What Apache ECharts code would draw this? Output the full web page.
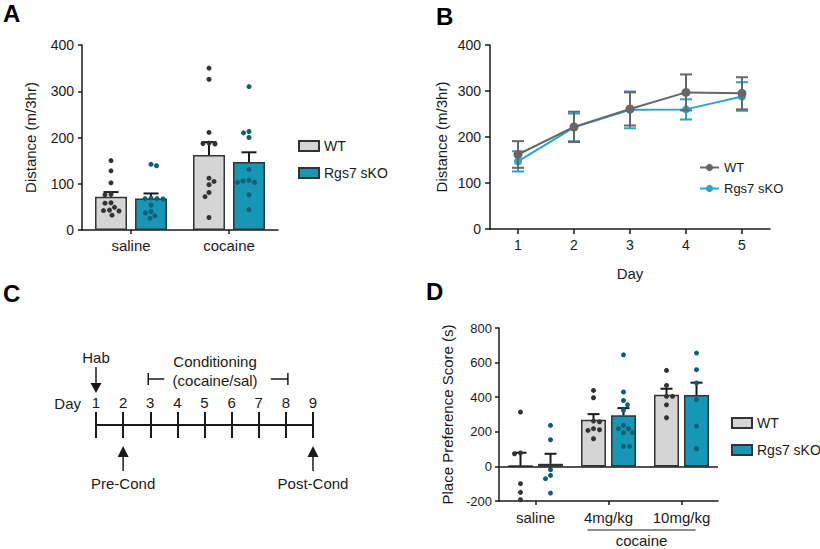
<!DOCTYPE html>
<html><head><meta charset="utf-8">
<script src="https://cdn.jsdelivr.net/npm/echarts@6/dist/echarts.min.js"></script>
<style>html,body{margin:0;padding:0;background:#fff}#c{width:820px;height:549px}</style>
</head><body><div id="c"></div>
<script>
// ---------- Panel A ----------
const aCategories = ['saline', 'cocaine'];
const aWTMean = [72, 162];
const aWTSem = [10, 28];
const aKOMean = [68, 147];
const aKOSem = [11, 21];
const aWTDots = [
  [150, 128, 102, 77, 76, 59, 58, 49, 43, 42, 41, 32],
  [350, 326, 211, 188, 187, 186, 112, 105, 98, 81, 72, 27]
];
const aKODots = [
  [142, 139, 69, 68, 68, 67, 54, 40, 37, 31, 25],
  [310, 213, 210, 200, 131, 108, 106, 103, 103, 76, 44]
];
// ---------- Panel B ----------
const bDays = ['1', '2', '3', '4', '5'];
const bWTMean = [162, 222, 261, 297, 295];
const bWTSem = [29, 33, 36, 39, 35];
const bKOMean = [147, 221, 259, 260, 288];
const bKOSem = [22, 30, 40, 22, 31];
// ---------- Panel C ----------
const cDays = [1, 2, 3, 4, 5, 6, 7, 8, 9];
const cEventDays = [1, 2, 9];
const cEventTexts = ['Hab', 'Pre-Cond', 'Post-Cond'];
const cEventDirs = ['down', 'up', 'up'];
const cCondRange = [3, 8];
const cCondTexts = ['Conditioning', '(cocaine/sal)'];
const cDayWord = ['Day'];
// ---------- Panel D ----------
const dCategories = ['saline', '4mg/kg', '10mg/kg'];
const dGroupText = ['cocaine'];
const dGroupRange = [1, 2];
const dWTMean = [4, 270, 414];
const dWTSem = [75, 32, 35];
const dKOMean = [15, 295, 412];
const dKOSem = [58, 42, 72];
const dWTDots = [
  [314, 78, 73, -100, -150, -193],
  [439, 397, 262, 258, 218, 212, 208, 160],
  [555, 468, 405, 405, 356, 281]
];
const dKODots = [
  [237, 154, -19, -52, -71, -154],
  [645, 430, 381, 356, 324, 237, 218, 218, 195, 195, 116, 116],
  [655, 559, 482, 387, 233, 102]
];

// ---------- styles ----------
const FONT = '"Liberation Sans", Arial, Helvetica, sans-serif';
const INK = '#1a1a1a';
const WT_FILL = '#d5d5d5';
const KO_FILL = '#1797b5';
const WT_DOT = '#333333';
const KO_DOT = '#0e5e74';
const WT_LINE = '#676767';
const KO_LINE = '#27a6c5';

function swarm(ys, d) {
  const placed = [];
  const out = [];
  ys.forEach((y, i) => {
    let chosen = 0;
    for (let k = 0; k < 80; k++) {
      const cands = k === 0 ? [0] : (i % 2 ? [k * 0.5, -k * 0.5] : [-k * 0.5, k * 0.5]);
      let ok = null;
      for (const x of cands) {
        if (placed.every(p => (p[0] - x) ** 2 + (p[1] - y) ** 2 >= d * d)) { ok = x; break; }
      }
      if (ok !== null) { chosen = ok; break; }
    }
    placed.push([chosen, y]);
    out.push(chosen);
  });
  return out;
}

function dotsSeries(groups, offset, color, size, xi, yi) {
  const cache = {};
  return {
    type: 'custom', xAxisIndex: xi, yAxisIndex: yi, z: 5, silent: true,
    data: groups.flatMap((vals, cat) => vals.map((v, i) => [cat, v, i])),
    renderItem: function (params, api) {
      const cat = api.value(0), idx = api.value(2);
      if (!cache[cat]) {
        const ys = groups[cat].map(v => api.coord([cat, v])[1]);
        cache[cat] = swarm(ys, size + 0.6);
      }
      const c = api.coord([cat, api.value(1)]);
      return { type: 'circle', shape: { cx: c[0] + offset + cache[cat][idx], cy: c[1], r: size / 2 }, style: { fill: color } };
    }
  };
}

function errSeries(means, sems, offset, color, capW, both, xi, yi, z) {
  return {
    type: 'custom', xAxisIndex: xi, yAxisIndex: yi, z: z || 4, silent: true,
    data: means.map((m, i) => [i, m, sems[i]]),
    renderItem: function (params, api) {
      const i = api.value(0), m = api.value(1), s = api.value(2);
      const top = api.coord([i, m + s]);
      const bot = api.coord([i, both ? m - s : m]);
      const x = top[0] + offset;
      const st = { stroke: color, lineWidth: 2 };
      const ch = [
        { type: 'line', shape: { x1: x, y1: bot[1], x2: x, y2: top[1] }, style: st },
        { type: 'line', shape: { x1: x - capW / 2, y1: top[1], x2: x + capW / 2, y2: top[1] }, style: st }
      ];
      if (both) ch.push({ type: 'line', shape: { x1: x - capW / 2, y1: bot[1], x2: x + capW / 2, y2: bot[1] }, style: st });
      return { type: 'group', children: ch };
    }
  };
}

const stripName = n => n.split('|')[1];
const axisLine = { show: true, onZero: false, lineStyle: { color: INK, width: 1.5 } };
const axisTick = { show: true, length: 4, lineStyle: { color: INK, width: 1.5 } };

const chart = echarts.init(document.getElementById('c'), null, { renderer: 'svg' });
const option = {
  animation: false,
  backgroundColor: '#fff',
  textStyle: { fontFamily: FONT, color: INK },
  title: [
    { text: 'A', left: 3, top: 1, padding: 0, textStyle: { fontSize: 24, fontWeight: 'bold', fontFamily: FONT, color: '#000' } },
    { text: 'B', left: 436, top: 4, padding: 0, textStyle: { fontSize: 24, fontWeight: 'bold', fontFamily: FONT, color: '#000' } },
    { text: 'C', left: 3, top: 281, padding: 0, textStyle: { fontSize: 24, fontWeight: 'bold', fontFamily: FONT, color: '#000' } },
    { text: 'D', left: 426, top: 279, padding: 0, textStyle: { fontSize: 24, fontWeight: 'bold', fontFamily: FONT, color: '#000' } }
  ],
  legend: [
    { data: ['A|WT', 'A|Rgs7 sKO'], orient: 'vertical', left: 293, top: 134, itemWidth: 20, itemHeight: 10, itemGap: 13, icon: 'rect',
      formatter: stripName, textStyle: { fontSize: 14, fontFamily: FONT, color: INK }, selectedMode: false },
    { data: ['B|WT', 'B|Rgs7 sKO'], orient: 'vertical', left: 694, top: 156, itemWidth: 19, itemHeight: 9, itemGap: 8,
      formatter: stripName, textStyle: { fontSize: 13, fontFamily: FONT, color: INK }, selectedMode: false },
    { data: ['D|WT', 'D|Rgs7 sKO'], orient: 'vertical', left: 726, top: 411, itemWidth: 20, itemHeight: 10, itemGap: 13, icon: 'rect',
      formatter: stripName, textStyle: { fontSize: 14, fontFamily: FONT, color: INK }, selectedMode: false, padding: [5, 0, 5, 5] }
  ],
  grid: [
    { left: 82, top: 45, width: 196, height: 185 },
    { left: 490, top: 45, width: 280, height: 184 },
    { left: 96, top: 412, width: 217, height: 13 },
    { left: 96, top: 340, width: 217, height: 170 },
    { left: 499, top: 328, width: 219, height: 173 }
  ],
  xAxis: [
    { gridIndex: 0, type: 'category', data: aCategories, axisLine, axisTick: Object.assign({ alignWithLabel: true }, axisTick),
      axisLabel: { fontSize: 15, margin: 8, color: INK, interval: 0 } },
    { gridIndex: 1, type: 'category', data: bDays, axisLine, axisTick: Object.assign({ alignWithLabel: true }, axisTick, { length: 5 }),
      axisLabel: { fontSize: 14, margin: 9, color: INK, interval: 0 },
      name: 'Day', nameLocation: 'middle', nameGap: 37, nameTextStyle: { fontSize: 15, color: INK } },
    { gridIndex: 2, type: 'value', min: 1, max: 9, interval: 1, position: 'bottom',
      axisLine: { show: true, onZero: false, lineStyle: { color: INK, width: 2 } },
      axisTick: { show: true, length: 13, lineStyle: { color: INK, width: 2 } },
      axisLabel: { show: false },
      splitLine: { show: true, showMinLine: true, showMaxLine: true, lineStyle: { color: INK, width: 2 } } },
    { gridIndex: 2, type: 'value', min: 1, max: 9, interval: 1, position: 'top',
      axisLine: { show: false }, axisTick: { show: false }, splitLine: { show: false },
      axisLabel: { fontSize: 15, margin: 2, color: INK } },
    { gridIndex: 3, type: 'value', min: 1, max: 9, show: false },
    { gridIndex: 4, type: 'category', data: dCategories, axisLine, axisTick: Object.assign({ alignWithLabel: true }, axisTick),
      axisLabel: { fontSize: 15, margin: 9, color: INK, interval: 0, hideOverlap: false } }
  ],
  yAxis: [
    { gridIndex: 0, type: 'value', min: 0, max: 400, interval: 100, axisLine, axisTick, splitLine: { show: false },
      axisLabel: { fontSize: 14, margin: 8, color: INK },
      name: 'Distance (m/3hr)', nameLocation: 'middle', nameGap: 44, nameTextStyle: { fontSize: 15, color: INK } },
    { gridIndex: 1, type: 'value', min: 0, max: 400, interval: 100, axisLine, axisTick: Object.assign({}, axisTick, { length: 5 }), splitLine: { show: false },
      axisLabel: { fontSize: 14, margin: 9, color: INK },
      name: 'Distance (m/3hr)', nameLocation: 'middle', nameGap: 41, nameTextStyle: { fontSize: 15, color: INK } },
    { gridIndex: 2, type: 'value', min: 0, max: 1, show: false },
    { gridIndex: 3, type: 'value', min: -85, max: 85, show: false },
    { gridIndex: 4, type: 'value', min: -200, max: 800, interval: 200, axisLine, axisTick, splitLine: { show: false },
      axisLabel: { fontSize: 13, margin: 7, color: INK },
      name: 'Place Preference Score (s)', nameLocation: 'middle', nameGap: 44, nameTextStyle: { fontSize: 15, color: INK } }
  ],
  series: [
    // A bars
    { name: 'A|WT', type: 'bar', xAxisIndex: 0, yAxisIndex: 0, data: aWTMean, barWidth: 32, barGap: '25%',
      itemStyle: { color: WT_FILL, borderColor: '#333', borderWidth: 1.5 } },
    { name: 'A|Rgs7 sKO', type: 'bar', xAxisIndex: 0, yAxisIndex: 0, data: aKOMean, barWidth: 32, barGap: '25%',
      itemStyle: { color: KO_FILL, borderColor: '#333', borderWidth: 1.5 } },
    errSeries(aWTMean, aWTSem, -20, INK, 15, false, 0, 0),
    errSeries(aKOMean, aKOSem, 20, INK, 15, false, 0, 0),
    dotsSeries(aWTDots, -20, WT_DOT, 5, 0, 0),
    dotsSeries(aKODots, 20, KO_DOT, 5, 0, 0),
    // B lines
    errSeries(bKOMean, bKOSem, 0, KO_LINE, 12, true, 1, 1, 3),
    { name: 'B|Rgs7 sKO', type: 'line', xAxisIndex: 1, yAxisIndex: 1, data: bKOMean, symbol: 'circle', symbolSize: 8,
      itemStyle: { color: KO_LINE }, lineStyle: { color: KO_LINE, width: 2 }, z: 3 },
    errSeries(bWTMean, bWTSem, 0, WT_LINE, 12, true, 1, 1, 4),
    { name: 'B|WT', type: 'line', xAxisIndex: 1, yAxisIndex: 1, data: bWTMean, symbol: 'circle', symbolSize: 9,
      itemStyle: { color: WT_LINE }, lineStyle: { color: WT_LINE, width: 2 }, z: 4 },
    // C timeline annotations
    { type: 'custom', xAxisIndex: 4, yAxisIndex: 3, clip: false, silent: true,
      data: cEventDays.map((d, i) => [d, cEventDirs[i] === 'down' ? 1 : -1, i]),
      renderItem: function (params, api) {
        const day = api.value(0), dir = api.value(1), i = api.value(2);
        const st = { stroke: INK, lineWidth: 1.5 };
        const tail = api.coord([day, dir * 58 + (dir < 0 ? 12 : 0)]);
        const tip = api.coord([day, dir * (dir > 0 ? 32 : 21)]);
        const base = api.coord([day, dir * (dir > 0 ? 42 : 32)]);
        const lab = api.coord([day, dir * (dir > 0 ? 68 : 58)]);
        const x = tip[0];
        return { type: 'group', children: [
          { type: 'line', shape: { x1: x, y1: tail[1], x2: x, y2: base[1] }, style: st },
          { type: 'polygon', shape: { points: [[x - 5.5, base[1]], [x + 5.5, base[1]], [x, tip[1]]] }, style: { fill: INK } },
          { type: 'text', x: x, y: lab[1], style: { text: cEventTexts[i], fill: INK, font: '15px ' + FONT, align: 'center', verticalAlign: 'middle' } }
        ] };
      } },
    { type: 'custom', xAxisIndex: 4, yAxisIndex: 3, clip: false, silent: true,
      data: [[cCondRange[0], cCondRange[1]]],
      renderItem: function (params, api) {
        const a = api.coord([api.value(0), 46]), b = api.coord([api.value(1), 46]);
        const hi = api.coord([api.value(0), 52])[1], lo = api.coord([api.value(0), 40])[1];
        const st = { stroke: INK, lineWidth: 1.5 };
        const mid = (a[0] + b[0]) / 2 - 3;
        const t1 = api.coord([api.value(0), 64])[1], t2 = api.coord([api.value(0), 45])[1];
        return { type: 'group', children: [
          { type: 'line', shape: { x1: a[0] - 2, y1: hi, x2: a[0] - 2, y2: lo }, style: st },
          { type: 'line', shape: { x1: a[0] - 2, y1: a[1], x2: a[0] + 14, y2: a[1] }, style: st },
          { type: 'line', shape: { x1: b[0] + 2, y1: hi, x2: b[0] + 2, y2: lo }, style: st },
          { type: 'line', shape: { x1: b[0] - 15, y1: b[1], x2: b[0] + 2, y2: b[1] }, style: st },
          { type: 'text', x: mid, y: t1, style: { text: cCondTexts[0], fill: INK, font: '15px ' + FONT, align: 'center', verticalAlign: 'middle' } },
          { type: 'text', x: mid, y: t2, style: { text: cCondTexts[1], fill: INK, font: '15px ' + FONT, align: 'center', verticalAlign: 'middle' } }
        ] };
      } },
    { type: 'custom', xAxisIndex: 4, yAxisIndex: 3, clip: false, silent: true,
      data: [[cDays[0], 22]],
      renderItem: function (params, api) {
        const p = api.coord([api.value(0), api.value(1)]);
        return { type: 'text', x: p[0] - 15, y: p[1], style: { text: cDayWord[0], fill: INK, font: '15px ' + FONT, align: 'right', verticalAlign: 'middle' } };
      } },
    { type: 'line', xAxisIndex: 2, yAxisIndex: 2, data: [], silent: true },
    // D bars
    { name: 'D|WT', type: 'bar', xAxisIndex: 5, yAxisIndex: 4, data: dWTMean, barWidth: 25, barGap: '20%',
      itemStyle: { color: WT_FILL, borderColor: '#333', borderWidth: 1.5 },
      markLine: { silent: true, symbol: 'none', label: { show: false }, data: [{ yAxis: 0 }],
        lineStyle: { color: INK, width: 1.5, type: 'solid' }, z: 6 } },
    { name: 'D|Rgs7 sKO', type: 'bar', xAxisIndex: 5, yAxisIndex: 4, data: dKOMean, barWidth: 25, barGap: '20%',
      itemStyle: { color: KO_FILL, borderColor: '#333', borderWidth: 1.5 } },
    errSeries(dWTMean, dWTSem, -15, INK, 12, false, 5, 4),
    errSeries(dKOMean, dKOSem, 15, INK, 12, false, 5, 4),
    dotsSeries(dWTDots, -15, WT_DOT, 5, 5, 4),
    dotsSeries(dKODots, 15, KO_DOT, 5, 5, 4),
    { type: 'custom', xAxisIndex: 5, yAxisIndex: 4, clip: false, silent: true,
      data: [[dGroupRange[0], dGroupRange[1]]],
      renderItem: function (params, api) {
        const a = api.coord([api.value(0), -200]), b = api.coord([api.value(1), -200]);
        const x1 = a[0] - 21, x2 = b[0] + 14;
        return { type: 'group', children: [
          { type: 'line', shape: { x1: x1, y1: a[1] + 29, x2: x2, y2: a[1] + 29 }, style: { stroke: INK, lineWidth: 1 } },
          { type: 'text', x: (x1 + x2) / 2, y: a[1] + 39, style: { text: dGroupText[0], fill: INK, font: '15px ' + FONT, align: 'center', verticalAlign: 'middle' } }
        ] };
      } }
  ]
};
chart.setOption(option);
</script>
</body></html>
